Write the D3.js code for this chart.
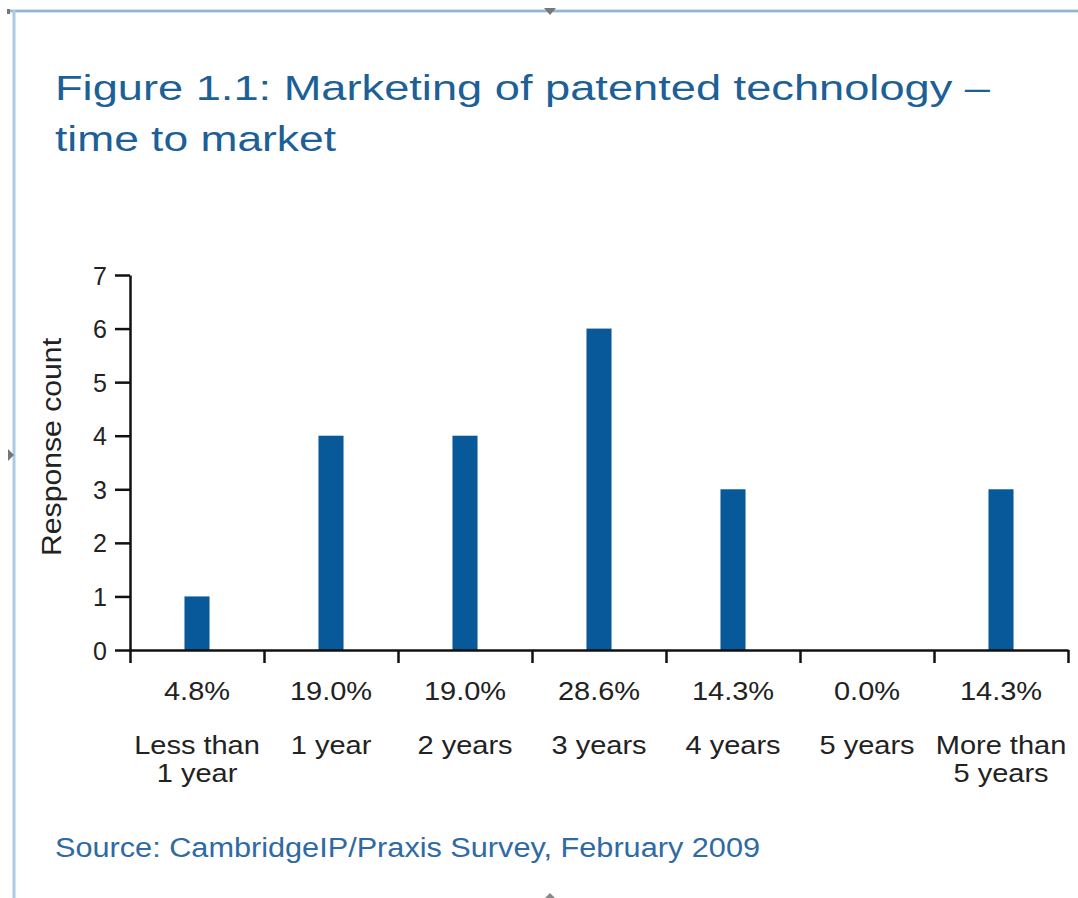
<!DOCTYPE html>
<html lang="en">

<head>
  <meta charset="utf-8">
  <title>Figure 1.1</title>
  <script src="https://d3js.org/d3.v7.min.js"></script>
  <style>
    body { margin: 0; background: #fff; }
    text { font-family: "Liberation Sans", Arial, Helvetica, sans-serif; }
  </style>
</head>

<body>
  <script type="text/javascript">
  var categories = ['Less than|1 year', '1 year', '2 years', '3 years', '4 years', '5 years', 'More than|5 years'];
  var counts = [1, 4, 4, 6, 3, 0, 3];
  var percents = ['4.8%', '19.0%', '19.0%', '28.6%', '14.3%', '0.0%', '14.3%'];
  var yTicks = [0, 1, 2, 3, 4, 5, 6, 7];

  var w = 1078, h = 898;
  var margin = {top: 275, right: 10, bottom: 248, left: 130};
  var innerW = 1068 - margin.left,
    innerH = h - margin.top - margin.bottom;
  var barColor = '#08599a', titleColor = '#1d5f97', textStretch = 1.16;

  var svg = d3.select('body').append('svg')
      .attr('width', w)
      .attr('height', h);

  // frame bits of the scanned page
  svg.append('line')
    .attr('x1', 8).attr('x2', w).attr('y1', 11).attr('y2', 11)
    .style('stroke', '#a9cbe6').style('stroke-width', 3);
  svg.append('line')
    .attr('x1', 8).attr('x2', w).attr('y1', 11).attr('y2', 11)
    .style('stroke', '#7d9fbb').style('stroke-width', 1);
  svg.append('line')
    .attr('x1', 14).attr('x2', 14).attr('y1', 10).attr('y2', h)
    .style('stroke', '#a9cbe6').style('stroke-width', 3);
  svg.append('path').attr('d', 'M544,8 L556,8 L550,15 Z').style('fill', '#777');
  svg.append('path').attr('d', 'M8,449 L8,461 L14,455 Z').style('fill', '#777');
  svg.append('path').attr('d', 'M545,898 L555,898 L550,893 Z').style('fill', '#888');
  svg.append('rect').attr('x', 7).attr('y', 9).attr('width', 3).attr('height', 5).style('fill', '#777');

  // title
  svg.append('text')
    .attr('x', 55).attr('y', 100)
    .attr('textLength', 935).attr('lengthAdjust', 'spacingAndGlyphs')
    .style('font-size', '35px').style('fill', titleColor)
    .text('Figure 1.1: Marketing of patented technology \u2013');
  svg.append('text')
    .attr('x', 55).attr('y', 151)
    .attr('textLength', 281).attr('lengthAdjust', 'spacingAndGlyphs')
    .style('font-size', '35px').style('fill', titleColor)
    .text('time to market');

  var g = svg.append('g')
      .attr('transform', 'translate(' + [margin.left, margin.top] + ')');

  var x = d3.scaleBand()
    .domain(categories)
    .range([0, innerW])
    .padding(0);
  var xEdge = d3.scaleLinear()
    .domain([0, categories.length])
    .range([0, innerW]);
  var y = d3.scaleLinear()
    .domain([0, d3.max(yTicks)])
    .range([innerH, 0]);
  var barW = x.bandwidth() * 0.187;

  g.selectAll('.bar')
    .data(counts)
    .enter().append('rect')
    .attr('class', 'bar')
    .attr('x', function(d, i){ return x(categories[i]) + (x.bandwidth() - barW) / 2; })
    .attr('y', function(d){ return y(d); })
    .attr('width', barW)
    .attr('height', function(d){ return innerH - y(d); })
    .style('fill', barColor);

  // y axis
  var yAxis = g.append('g')
    .call(d3.axisLeft(y).tickValues(yTicks).tickFormat(d3.format('d'))
      .tickSize(15).tickSizeOuter(0).tickPadding(8));
  yAxis.selectAll('path, line').style('stroke', '#111').style('stroke-width', 2.5);
  yAxis.selectAll('text').style('font-size', '25px').style('fill', '#222')
    .attr('dy', '0.36em');

  // x axis, ticks on band edges
  var xAxis = g.append('g')
    .attr('transform', 'translate(0,' + innerH + ')')
    .call(d3.axisBottom(xEdge).tickValues(d3.range(categories.length + 1))
      .tickSize(13).tickSizeOuter(0).tickFormat(''));
  xAxis.selectAll('path, line').style('stroke', '#111').style('stroke-width', 2.5);

  // percent and category labels
  var labels = g.selectAll('.lab')
    .data(categories)
    .enter().append('g')
    .attr('class', 'lab')
    .attr('transform', function(d){ return 'translate(' + (x(d) + x.bandwidth() / 2) + ',' + innerH + ')'; });
  labels.append('text')
    .attr('transform', 'translate(0,50) scale(' + textStretch + ',1)')
    .attr('text-anchor', 'middle')
    .style('font-size', '25px').style('fill', '#222')
    .text(function(d, i){ return percents[i]; });
  labels.each(function(d){
    var parts = d.split('|');
    var sel = d3.select(this);
    parts.forEach(function(p, k){
      sel.append('text')
        .attr('transform', 'translate(0,' + (104 + k * 28) + ') scale(' + textStretch + ',1)')
        .attr('text-anchor', 'middle')
        .style('font-size', '25px').style('fill', '#222')
        .text(p);
    });
  });

  // y axis title
  svg.append('text')
    .attr('transform', 'translate(61,447) rotate(-90)')
    .attr('text-anchor', 'middle')
    .attr('textLength', 218).attr('lengthAdjust', 'spacingAndGlyphs')
    .style('font-size', '27px').style('fill', '#222')
    .text('Response count');

  // source
  svg.append('text')
    .attr('x', 55).attr('y', 857)
    .attr('textLength', 705).attr('lengthAdjust', 'spacingAndGlyphs')
    .style('font-size', '27px').style('fill', '#2f6aa3')
    .text('Source: CambridgeIP/Praxis Survey, February 2009');
  </script>
</body>

</html>
